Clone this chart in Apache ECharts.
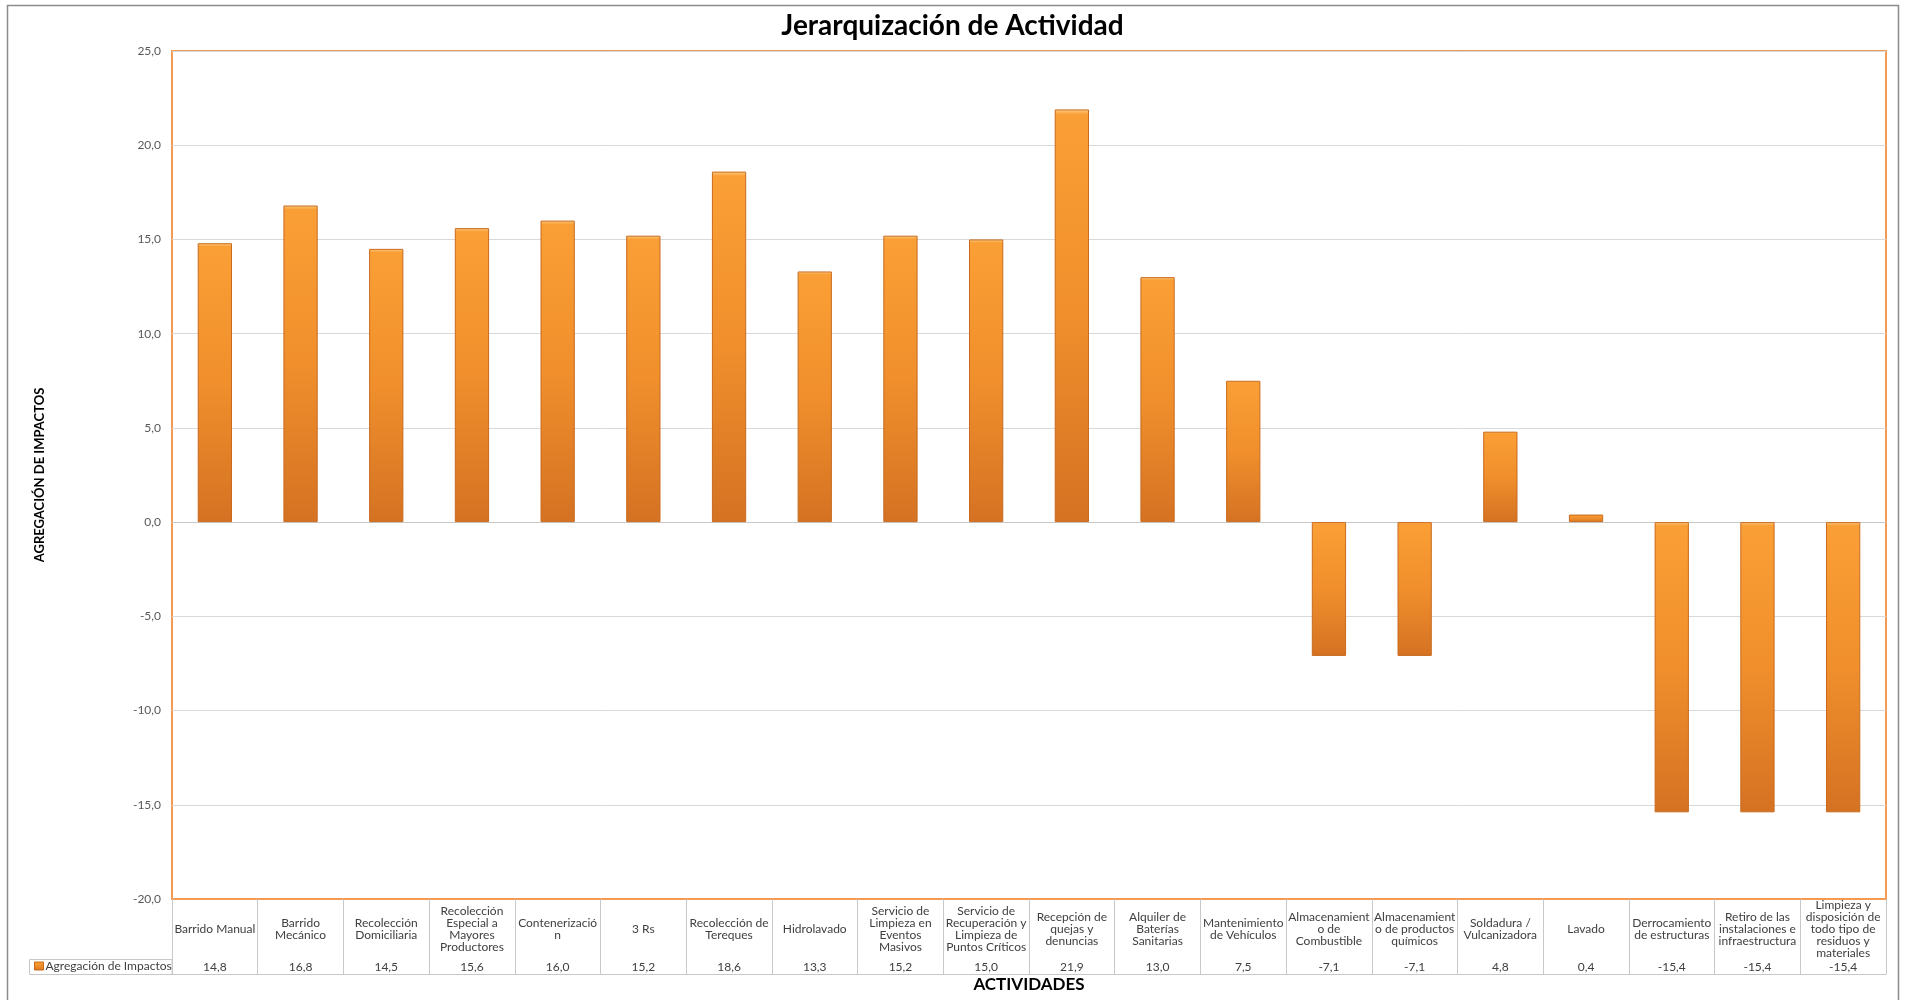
<!DOCTYPE html>
<html>
<head>
<meta charset="utf-8">
<script src="https://cdn.jsdelivr.net/npm/echarts@6/dist/echarts.min.js"></script>
<style>
html,body{margin:0;padding:0;background:#fff;}
#chart{width:1905px;height:1000px;}
</style>
</head>
<body>
<div id="chart"></div>
<script>
const categories = [
  "Barrido Manual",
  "Barrido\nMecánico",
  "Recolección\nDomiciliaria",
  "Recolección\nEspecial a\nMayores\nProductores",
  "Contenerizació\nn",
  "3 Rs",
  "Recolección de\nTereques",
  "Hidrolavado",
  "Servicio de\nLimpieza en\nEventos\nMasivos",
  "Servicio de\nRecuperación y\nLimpieza de\nPuntos Críticos",
  "Recepción de\nquejas y\ndenuncias",
  "Alquiler de\nBaterías\nSanitarias",
  "Mantenimiento\nde Vehículos",
  "Almacenamient\no de\nCombustible",
  "Almacenamient\no de productos\nquímicos",
  "Soldadura /\nVulcanizadora",
  "Lavado",
  "Derrocamiento\nde estructuras",
  "Retiro de las\ninstalaciones e\ninfraestructura",
  "Limpieza y\ndisposición de\ntodo tipo de\nresiduos y\nmateriales"
];
const seriesName = "Agregación de Impactos";
const values = [14.8, 16.8, 14.5, 15.6, 16.0, 15.2, 18.6, 13.3, 15.2, 15.0, 21.9, 13.0, 7.5, -7.1, -7.1, 4.8, 0.4, -15.4, -15.4, -15.4];
const yMin = -20, yMax = 25, yStep = 5;

const fmt = v => v.toFixed(1).replace('.', ',');
const valueLabels = values.map(fmt);

const FONT = 'Lato, "Open Sans", sans-serif';
const ORANGE_BORDER = '#F39A55';
const TABLE_LINE = '#C8C8C8';

const chart = echarts.init(document.getElementById('chart'));
chart.setOption({
  animation: false,
  backgroundColor: '#fff',
  textStyle: { fontFamily: FONT },
  title: [
    { text: 'Jerarquización de Actividad', left: 'center', top: 12, padding: 0,
      textStyle: { fontFamily: FONT, fontSize: 28, fontWeight: 'bold', color: '#000' } },
    { text: 'ACTIVIDADES', left: 1029, textAlign: 'center', top: 976, padding: 0,
      textStyle: { fontFamily: FONT, fontSize: 17, fontWeight: 'bold', color: '#000' } }
  ],
  legend: {
    data: [seriesName], left: 34, top: 960, itemWidth: 9, itemHeight: 8, icon: 'rect',
    itemGap: 4, padding: 0,
    itemStyle: { borderColor: '#C96A1E', borderWidth: 1 },
    textStyle: { fontFamily: FONT, fontSize: 12, color: '#404040', padding: [0, 0, 0, -3] }
  },
  grid: {
    left: 172, right: 19, top: 51, bottom: 101,
    show: true, borderColor: ORANGE_BORDER, borderWidth: 2, backgroundColor: '#fff'
  },
  xAxis: [
    {
      type: 'category', data: categories, position: 'bottom',
      axisLine: { onZero: false, lineStyle: { color: ORANGE_BORDER, width: 2 } },
      axisTick: { show: true, length: 75, interval: 0, lineStyle: { color: TABLE_LINE, width: 1 } },
      axisLabel: { interval: 0, margin: 30, verticalAlign: 'middle', lineHeight: 12,
        fontSize: 12, color: '#404040', fontFamily: FONT, align: 'center' }
    },
    {
      type: 'category', data: valueLabels, position: 'bottom', offset: 60,
      axisLine: { show: true, lineStyle: { color: TABLE_LINE, width: 1 } },
      axisTick: { show: false },
      axisLabel: { interval: 0, margin: 8, verticalAlign: 'middle', fontSize: 12,
        color: '#404040', fontFamily: FONT }
    },
    {
      type: 'category', data: categories, position: 'bottom', offset: 75,
      axisLine: { show: true, lineStyle: { color: TABLE_LINE, width: 1 } },
      axisTick: { show: false }, axisLabel: { show: false }
    }
  ],
  yAxis: {
    type: 'value', min: yMin, max: yMax, interval: yStep,
    name: 'AGREGACIÓN DE IMPACTOS', nameLocation: 'middle', nameGap: 126, nameRotate: 90,
    nameTextStyle: { fontFamily: FONT, fontSize: 13, fontWeight: 'bold', color: '#000' },
    axisLine: { show: false }, axisTick: { show: false },
    axisLabel: { formatter: fmt, margin: 11, fontSize: 12, color: '#595959', fontFamily: FONT },
    splitLine: { lineStyle: { color: '#D9D9D9', width: 1 } }
  },
  graphic: [
    { type: 'rect', shape: { x: 7.5, y: 5.5, width: 1891, height: 1010 }, silent: true,
      style: { fill: 'none', stroke: '#8C8C8C', lineWidth: 1.5 }, z: -10 },
    { type: 'rect', shape: { x: 29.5, y: 959.5, width: 142.5, height: 15 }, silent: true,
      style: { fill: 'none', stroke: TABLE_LINE, lineWidth: 1 } }
  ],
  series: [{
    name: seriesName, type: 'bar', data: values, xAxisIndex: 0,
    barWidth: '40%',
    itemStyle: {
      color: new echarts.graphic.LinearGradient(0, 0, 0, 1, [
        { offset: 0, color: '#FBD08A' },
        { offset: 0.012, color: '#FA9F35' },
        { offset: 0.5, color: '#F08F2C' },
        { offset: 1, color: '#D47223' }
      ]),
      borderColor: '#C96A1E', borderWidth: 1
    }
  }]
});
</script>
</body>
</html>
